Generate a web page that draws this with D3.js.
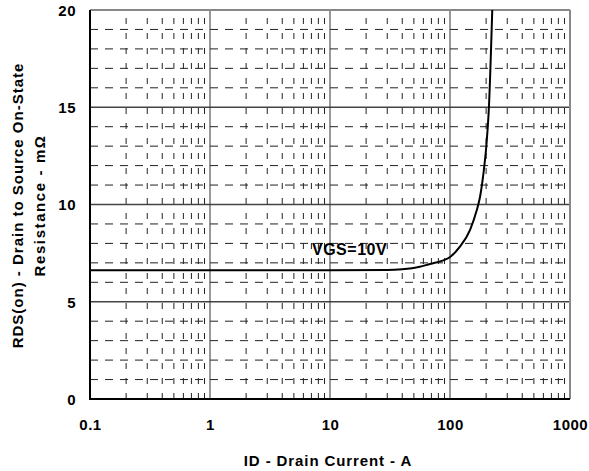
<!DOCTYPE html>
<html>
<head>
<meta charset="utf-8">
<script src="https://cdn.jsdelivr.net/npm/d3@7"></script>
<style>
  html, body { margin: 0; padding: 0; background: #fff; }
  svg text { font-family: "Liberation Sans", Arial, Helvetica, sans-serif; font-weight: bold; fill: #000; }
</style>
</head>
<body>
<svg id="chart" width="589" height="471"></svg>
<script>
// Drain current (A) and on-state resistance (mΩ) along the VGS = 10 V curve
const currentA = [0.1, 1, 10, 30, 40, 56, 68, 80, 94, 100, 121, 147, 167, 178, 190, 202, 211, 225];
const rdsOn    = [6.62, 6.62, 6.62, 6.63, 6.67, 6.8, 6.94, 7.05, 7.2, 7.3, 7.83, 8.7, 9.7, 10.4, 11.6, 13.2, 15, 20];

const xTickValues = [0.1, 1, 10, 100, 1000];
const xTickLabels = ["0.1", "1", "10", "100", "1000"];
const yTickValues = [0, 5, 10, 15, 20];
const curveLabel = "VGS=10V";

const svg = d3.select("#chart");
const plot = { left: 90, top: 10, right: 570, bottom: 399 };

const x = d3.scaleLog().domain([0.1, 1000]).range([plot.left, plot.right]);
const y = d3.scaleLinear().domain([0, 20]).range([plot.bottom, plot.top]);

const grid = svg.append("g");

// minor dashed horizontals at every 1 mΩ
const minorY = d3.range(1, 20).filter(v => v % 5 !== 0);
grid.selectAll("line.hmin").data(minorY).join("line")
  .attr("x1", plot.left).attr("x2", plot.right)
  .attr("y1", d => y(d)).attr("y2", d => y(d))
  .attr("stroke", "#222").attr("stroke-width", 1)
  .attr("stroke-dasharray", "8,7");

// minor dashed verticals at 2..9 per decade
const minorX = [];
[0.1, 1, 10, 100].forEach(dec => { for (let k = 2; k <= 9; k++) minorX.push(dec * k); });
grid.selectAll("line.vmin").data(minorX).join("line")
  .attr("x1", d => x(d)).attr("x2", d => x(d))
  .attr("y1", plot.bottom).attr("y2", plot.top)
  .attr("stroke", "#222").attr("stroke-width", 1)
  .attr("stroke-dasharray", "6,9");

// major solid lines
grid.selectAll("line.hmaj").data([5, 10, 15]).join("line")
  .attr("x1", plot.left).attr("x2", plot.right)
  .attr("y1", d => y(d)).attr("y2", d => y(d))
  .attr("stroke", "#444").attr("stroke-width", 1.5);
grid.selectAll("line.vmaj").data([1, 10, 100]).join("line")
  .attr("x1", d => x(d)).attr("x2", d => x(d))
  .attr("y1", plot.bottom).attr("y2", plot.top)
  .attr("stroke", "#333").attr("stroke-width", 1);

// frame
svg.append("line").attr("x1", plot.left).attr("x2", plot.right).attr("y1", plot.top).attr("y2", plot.top)
  .attr("stroke", "#888").attr("stroke-width", 2);
svg.append("line").attr("x1", plot.right).attr("x2", plot.right).attr("y1", plot.top).attr("y2", plot.bottom)
  .attr("stroke", "#888").attr("stroke-width", 2);
svg.append("line").attr("x1", plot.left).attr("x2", plot.left).attr("y1", plot.top).attr("y2", plot.bottom + 1)
  .attr("stroke", "#000").attr("stroke-width", 2);
svg.append("line").attr("x1", plot.left - 1).attr("x2", plot.right).attr("y1", plot.bottom).attr("y2", plot.bottom)
  .attr("stroke", "#000").attr("stroke-width", 2);

// curve
const pts = currentA.map((c, i) => [c, rdsOn[i]]);
svg.append("path").datum(pts)
  .attr("fill", "none").attr("stroke", "#000").attr("stroke-width", 2)
  .attr("d", d3.line().x(d => x(d[0])).y(d => y(d[1])).curve(d3.curveMonotoneX));

svg.append("text").attr("x", 312).attr("y", 255)
  .style("font-size", "16px").style("letter-spacing", "0.5px").text(curveLabel);

// axes
const xAxis = d3.axisBottom(x).tickValues(xTickValues)
  .tickFormat((d, i) => xTickLabels[i]).tickSize(0).tickPadding(0);
const gx = svg.append("g").attr("transform", `translate(0,${plot.bottom})`).call(xAxis);
gx.select(".domain").remove();
gx.selectAll("text").attr("dy", null).attr("y", 31)
  .style("font-size", "15px").style("letter-spacing", "0.5px").attr("fill", "#000");

const yAxis = d3.axisLeft(y).tickValues(yTickValues).tickSize(0).tickPadding(0);
const gy = svg.append("g").attr("transform", `translate(${plot.left},0)`).call(yAxis);
gy.select(".domain").remove();
gy.selectAll("text").attr("x", -14).attr("dy", "0.36em")
  .style("font-size", "15px").style("letter-spacing", "0.5px").attr("fill", "#000");
gx.attr("font-family", null).attr("font-size", null);
gy.attr("font-family", null).attr("font-size", null);

// axis titles
svg.append("text").attr("x", (plot.left + plot.right) / 2 - 2).attr("y", 466)
  .attr("text-anchor", "middle").style("font-size", "15px").style("letter-spacing", "0.9px")
  .text("ID - Drain Current - A");

const yTitle = svg.append("text")
  .attr("transform", `translate(0,${(plot.top + plot.bottom) / 2 + 1}) rotate(-90)`)
  .attr("text-anchor", "middle").style("font-size", "15px").style("letter-spacing", "1px");
yTitle.append("tspan").attr("x", 0).attr("y", 23).text("RDS(on) - Drain to Source On-State");
yTitle.append("tspan").attr("x", 0).attr("y", 45).style("letter-spacing", "1.6px").text("Resistance - mΩ");
</script>
</body>
</html>
